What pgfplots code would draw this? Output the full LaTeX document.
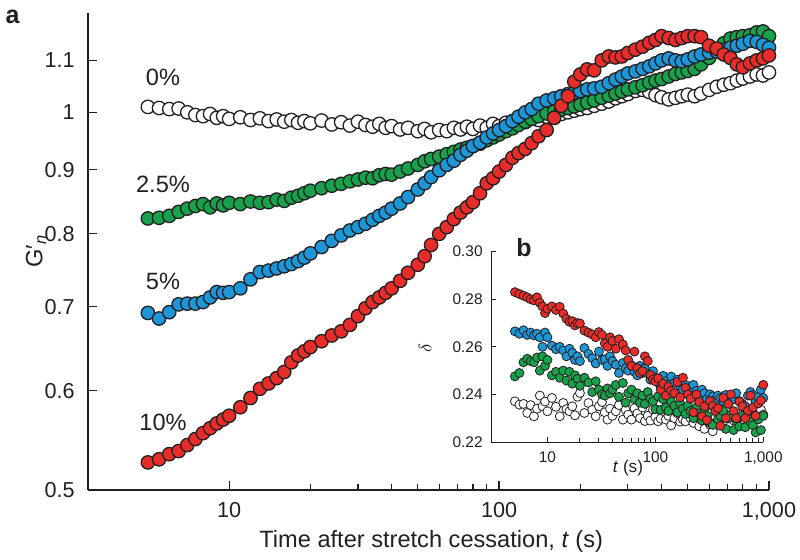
\documentclass[border=0pt]{standalone}
\usepackage{pgfplots}
\pgfplotsset{compat=1.18}
\usepackage{pgfplotstable}
\usepackage{fontspec}
\setmainfont{Liberation Sans}
\definecolor{ink}{HTML}{231F20}
\definecolor{cgreen}{RGB}{24,160,74}
\definecolor{cblue}{RGB}{28,150,214}
\definecolor{cred}{RGB}{232,44,42}

% main panel: G'_n versus t
\pgfplotstableread{
t w g b r
5 1.010 0.823 0.692 0.526
5.5 1.008 0.824 0.685 0.529
6 1.006 0.827 0.693 0.534
6.5 1.007 0.833 0.703 0.537
7 1.000 0.838 0.704 0.543
7.5 0.995 0.842 0.704 0.549
8 0.993 0.845 0.706 0.555
8.5 0.997 0.840 0.712 0.560
9 0.990 0.846 0.719 0.565
9.5 0.993 0.843 0.718 0.569
10 0.988 0.847 0.719 0.573
11 0.991 0.845 0.724 0.582
12 0.986 0.849 0.736 0.592
13 0.989 0.847 0.746 0.602
14 0.984 0.848 0.748 0.608
15 0.987 0.852 0.751 0.614
16 0.983 0.850 0.754 0.621
17 0.986 0.855 0.757 0.632
18 0.981 0.858 0.761 0.640
19 0.984 0.862 0.766 0.645
20 0.980 0.866 0.772 0.650
22 0.985 0.870 0.781 0.657
24 0.978 0.874 0.790 0.664
26 0.982 0.877 0.798 0.669
28 0.976 0.881 0.805 0.677
30 0.983 0.884 0.810 0.688
32 0.977 0.887 0.815 0.698
34 0.974 0.886 0.821 0.706
36 0.979 0.891 0.827 0.712
38 0.972 0.893 0.832 0.718
40 0.975 0.892 0.838 0.724
43 0.969 0.897 0.846 0.734
46 0.972 0.902 0.856 0.745
50 0.966 0.908 0.868 0.756
53 0.970 0.914 0.878 0.768
56 0.964 0.918 0.888 0.784
60 0.968 0.922 0.899 0.800
64 0.966 0.926 0.908 0.810
68 0.972 0.930 0.915 0.822
72 0.969 0.934 0.925 0.832
76 0.974 0.937 0.932 0.840
80 0.970 0.940 0.940 0.848
85 0.976 0.944 0.946 0.862
90 0.972 0.950 0.955 0.878
95 0.979 0.955 0.962 0.886
100 0.975 0.960 0.968 0.897
106 0.981 0.966 0.975 0.908
112 0.978 0.971 0.984 0.920
118 0.985 0.977 0.992 0.928
125 0.982 0.983 1.000 0.935
132 0.988 0.988 1.006 0.945
140 0.986 0.993 1.016 0.957
150 0.992 0.998 1.022 0.968
160 0.990 1.002 1.026 0.990
170 0.997 1.005 1.030 1.012
180 1.000 1.008 1.034 1.030
190 1.003 1.011 1.037 1.058
200 1.006 1.014 1.040 1.072
212 1.008 1.018 1.043 1.082
225 1.012 1.022 1.045 1.080
240 1.016 1.027 1.048 1.100
255 1.020 1.031 1.055 1.108
270 1.026 1.035 1.062 1.106
285 1.030 1.039 1.068 1.108
300 1.034 1.043 1.074 1.115
320 1.040 1.047 1.078 1.122
340 1.042 1.051 1.083 1.128
360 1.038 1.056 1.088 1.136
380 1.032 1.060 1.094 1.142
400 1.028 1.063 1.100 1.150
425 1.024 1.068 1.104 1.146
450 1.027 1.073 1.100 1.142
475 1.030 1.076 1.098 1.146
500 1.033 1.079 1.102 1.150
530 1.030 1.083 1.108 1.150
560 1.035 1.092 1.112 1.148
600 1.042 1.105 1.116 1.130
640 1.048 1.120 1.118 1.124
680 1.052 1.135 1.122 1.112
720 1.055 1.145 1.126 1.105
760 1.060 1.148 1.130 1.092
800 1.064 1.150 1.134 1.086
850 1.068 1.152 1.140 1.094
900 1.072 1.158 1.138 1.100
950 1.070 1.160 1.132 1.104
1000 1.076 1.150 1.126 1.110
}\maintab

% inset: delta versus t
\pgfplotstableread{
t w g b r
5 0.2371 0.2476 0.2665 0.2830
5.5 0.2357 0.2490 0.2655 0.2822
6 0.2360 0.2535 0.2670 0.2815
6.5 0.2322 0.2550 0.2650 0.2808
7 0.2355 0.2540 0.2660 0.2800
7.5 0.2308 0.2535 0.2648 0.2795
8 0.2340 0.2555 0.2655 0.2808
8.5 0.2395 0.2500 0.2640 0.2785
9 0.2350 0.2560 0.2600 0.2770
9.5 0.2370 0.2520 0.2660 0.2742
10 0.2329 0.2545 0.2640 0.2760
11 0.2385 0.2480 0.2605 0.2770
12 0.2348 0.2495 0.2590 0.2755
13 0.2308 0.2470 0.2600 0.2768
14 0.2364 0.2500 0.2585 0.2740
15 0.2338 0.2458 0.2560 0.2718
16 0.2329 0.2495 0.2592 0.2705
17 0.2350 0.2445 0.2575 0.2708
18 0.2312 0.2480 0.2545 0.2690
19 0.2390 0.2465 0.2560 0.2700
20 0.2406 0.2436 0.2540 0.2698
22 0.2322 0.2470 0.2595 0.2668
24 0.2364 0.2450 0.2570 0.2660
26 0.2335 0.2410 0.2552 0.2652
28 0.2308 0.2455 0.2530 0.2640
30 0.2350 0.2420 0.2580 0.2662
32 0.2368 0.2400 0.2545 0.2650
34 0.2325 0.2395 0.2548 0.2615
36 0.2294 0.2425 0.2520 0.2600
38 0.2340 0.2405 0.2560 0.2640
40 0.2310 0.2420 0.2540 0.2625
43 0.2329 0.2440 0.2525 0.2592
46 0.2355 0.2390 0.2490 0.2632
50 0.2294 0.2448 0.2532 0.2610
53 0.2335 0.2365 0.2510 0.2585
56 0.2315 0.2405 0.2500 0.2545
60 0.2294 0.2420 0.2522 0.2520
64 0.2342 0.2380 0.2495 0.2580
68 0.2320 0.2405 0.2480 0.2510
72 0.2300 0.2365 0.2520 0.2490
76 0.2345 0.2395 0.2490 0.2498
80 0.2288 0.2360 0.2510 0.2560
85 0.2310 0.2410 0.2488 0.2540
90 0.2290 0.2382 0.2462 0.2482
95 0.2336 0.2370 0.2498 0.2462
100 0.2305 0.2338 0.2470 0.2455
106 0.2287 0.2392 0.2450 0.2468
112 0.2298 0.2335 0.2430 0.2420
118 0.2330 0.2380 0.2478 0.2445
125 0.2294 0.2345 0.2455 0.2395
132 0.2310 0.2330 0.2440 0.2432
140 0.2270 0.2370 0.2475 0.2415
150 0.2300 0.2352 0.2448 0.2405
160 0.2320 0.2325 0.2462 0.2452
170 0.2285 0.2360 0.2435 0.2388
180 0.2295 0.2340 0.2420 0.2470
190 0.2287 0.2318 0.2440 0.2428
200 0.2322 0.2352 0.2425 0.2400
212 0.2300 0.2330 0.2410 0.2382
225 0.2280 0.2300 0.2440 0.2325
240 0.2310 0.2345 0.2415 0.2400
255 0.2266 0.2320 0.2395 0.2368
270 0.2294 0.2290 0.2420 0.2308
285 0.2255 0.2335 0.2405 0.2350
300 0.2308 0.2310 0.2380 0.2292
320 0.2272 0.2280 0.2400 0.2372
340 0.2245 0.2272 0.2392 0.2352
360 0.2300 0.2330 0.2378 0.2330
380 0.2330 0.2295 0.2395 0.2342
400 0.2295 0.2310 0.2385 0.2268
425 0.2285 0.2330 0.2372 0.2385
450 0.2336 0.2255 0.2398 0.2300
475 0.2300 0.2300 0.2365 0.2360
500 0.2310 0.2315 0.2392 0.2400
530 0.2290 0.2250 0.2380 0.2330
560 0.2320 0.2290 0.2405 0.2300
600 0.2305 0.2265 0.2372 0.2370
640 0.2295 0.2310 0.2360 0.2350
680 0.2336 0.2262 0.2350 0.2300
720 0.2310 0.2325 0.2395 0.2332
760 0.2300 0.2285 0.2410 0.2395
800 0.2290 0.2270 0.2398 0.2345
850 0.2320 0.2240 0.2370 0.2310
900 0.2300 0.2295 0.2390 0.2362
950 0.2336 0.2250 0.2420 0.2375
1000 0.2315 0.2310 0.2385 0.2440
}\insettab

\begin{document}
\begin{tikzpicture}[font=\fontsize{11.8}{13.5}\selectfont, text=ink]
\begin{axis}[
  scale only axis, width=340.5pt, height=238.5pt,
  at={(0pt,0pt)}, anchor=south west,
  xmode=log, ymode=log,
  xmin=3, xmax=1000, ymin=0.5, ymax=1.2,
  axis x line*=bottom, axis y line*=left,
  axis line style={line width=0.6pt, draw=ink},
  tick align=inside,
  tick style={line width=0.6pt, draw=ink},
  major tick length=4.5pt, minor tick length=3pt,
  xtick={10,100,1000}, xticklabels={10,100,{1,000}},
  ytick={0.5,0.6,0.7,0.8,0.9,1,1.1},
  yticklabels={0.5,0.6,0.7,0.8,0.9,1,1.1},
  yminorticks=false,
  /pgf/number format/assume math mode=true,
  ticklabel style={font=\fontsize{10.8}{12}\selectfont},
  xticklabel style={inner sep=0pt, yshift=-6pt},
  yticklabel style={inner sep=0pt, xshift=-6.5pt},
  xlabel={Time after stretch cessation, \textit{t} (s)},
  xlabel style={at={(axis description cs:0.504,-0.107)}, anchor=center},
  ylabel={G′\textsubscript{\textit{n}}},
  ylabel style={at={(axis description cs:-0.0764,0.501)}, anchor=center},
  clip=false,
]
\addplot[only marks, mark=*, mark size=3.35pt, mark options={draw=ink, fill=white, line width=0.65pt}] table[x=t,y=w]{\maintab};
\addplot[only marks, mark=*, mark size=3.35pt, mark options={draw=ink, fill=cgreen, line width=0.65pt}] table[x=t,y=g]{\maintab};
\addplot[only marks, mark=*, mark size=3.35pt, mark options={draw=ink, fill=cblue, line width=0.65pt}] table[x=t,y=b]{\maintab};
\addplot[only marks, mark=*, mark size=3.35pt, mark options={draw=ink, fill=cred, line width=0.65pt}] table[x=t,y=r]{\maintab};
\end{axis}

\node at (37.5pt,206.5pt) {0\%};
\node at (37.5pt,153pt) {2.5\%};
\node at (37.5pt,104.5pt) {5\%};
\node at (37.5pt,34pt) {10\%};
\node[font=\fontsize{12.5}{14}\selectfont\bfseries] at (-37.75pt,236.5pt) {a};

\begin{axis}[
  scale only axis, width=136.15pt, height=95.15pt,
  at={(201.5pt,24pt)}, anchor=south west,
  xmode=log,
  xmin=3, xmax=1000, ymin=0.22, ymax=0.30,
  axis x line*=bottom, axis y line*=left,
  axis line style={line width=0.45pt, draw=ink},
  tick align=inside,
  tick style={line width=0.45pt, draw=ink},
  major tick length=2.5pt, minor tick length=1.8pt,
  xtick={10,100,1000}, xticklabels={10,100,{1,000}},
  ytick={0.22,0.24,0.26,0.28,0.30},
  yticklabels={0.22,0.24,0.26,0.28,0.30},
  /pgf/number format/assume math mode=true,
  ticklabel style={font=\fontsize{7.7}{9}\selectfont},
  xticklabel style={inner sep=0pt, yshift=-4.5pt},
  yticklabel style={inner sep=0pt, xshift=-4pt},
  xlabel={\textit{t} (s)},
  xlabel style={at={(axis description cs:0.503,-0.135)}, anchor=center, font=\fontsize{8.6}{10}\selectfont},
  ylabel={$\delta$},
  ylabel style={at={(axis description cs:-0.242,0.494)}, anchor=center, font=\fontsize{9.5}{10}\selectfont},
  clip=false,
]
\addplot[only marks, mark=*, mark size=2.25pt, mark options={draw=ink, fill=white, line width=0.4pt}] table[x=t,y=w]{\insettab};
\addplot[only marks, mark=*, mark size=2.25pt, mark options={draw=ink, fill=cgreen, line width=0.4pt}] table[x=t,y=g]{\insettab};
\addplot[only marks, mark=*, mark size=2.25pt, mark options={draw=ink, fill=cblue, line width=0.4pt}] table[x=t,y=b]{\insettab};
\addplot[only marks, mark=*, mark size=2.25pt, mark options={draw=ink, fill=cred, line width=0.4pt}] table[x=t,y=r]{\insettab};
\end{axis}
\node[font=\fontsize{12.5}{14}\selectfont\bfseries] at (218pt,121.25pt) {b};

\pgfresetboundingbox
\path[use as bounding box] (-44pt,-35pt) rectangle (356pt,245pt);
\end{tikzpicture}
\end{document}
